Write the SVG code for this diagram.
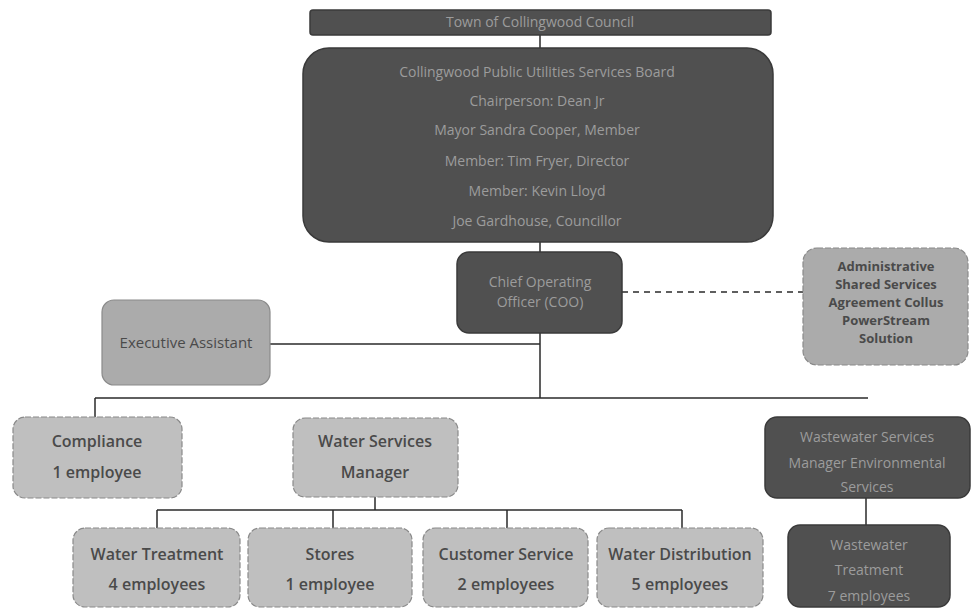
<svg xmlns="http://www.w3.org/2000/svg" width="976" height="611" viewBox="0 0 976 611">
<style>
.dark{fill:#505050;stroke:#3a3a3a;stroke-width:1.5}
.light{fill:#bfbfbf;stroke:#8a8a8a;stroke-width:1.2;stroke-dasharray:6 2}
.mid{fill:#ababab;stroke:#8a8a8a;stroke-width:1.2}
.dt{font-family:"Open Sans","Liberation Sans",sans-serif;font-size:14px;fill:#9c9c9c;text-anchor:middle}
.lt{font-family:"Open Sans","Liberation Sans",sans-serif;font-size:16px;font-weight:600;fill:#4a4a4a;text-anchor:middle}
.at{font-family:"Open Sans","Liberation Sans",sans-serif;font-size:13px;font-weight:700;fill:#4a4a4a;text-anchor:middle}
.conn line,.conn path{stroke:#2a2a2a;stroke-width:1.5;fill:none}
</style>
<rect width="976" height="611" fill="#ffffff"/>
<g class="conn" id="connectors">
<line x1="540" y1="35" x2="540" y2="48"/>
<line x1="540" y1="242" x2="540" y2="252"/>
<line x1="540" y1="333" x2="540" y2="398"/>
<line x1="270" y1="344" x2="540" y2="344"/>
<line x1="622" y1="292" x2="803" y2="292" style="stroke-dasharray:6 5"/>
<line x1="95" y1="398" x2="868" y2="398"/>
<line x1="95" y1="398" x2="95" y2="417"/>
<line x1="866" y1="498" x2="866" y2="525"/>
<line x1="375" y1="497" x2="375" y2="510"/>
<line x1="157" y1="510" x2="682" y2="510"/>
<line x1="157" y1="510" x2="157" y2="528"/>
<line x1="333" y1="510" x2="333" y2="528"/>
<line x1="507" y1="510" x2="507" y2="528"/>
<line x1="682" y1="510" x2="682" y2="528"/>
</g>
<g id="council">
<rect class="dark" x="310" y="10" width="461" height="25" rx="3"/>
<text class="dt" x="540" y="27">Town of Collingwood Council</text>
</g>
<g id="board">
<rect class="dark" x="303" y="48" width="470" height="194" rx="26"/>
<text class="dt" x="537" y="77">Collingwood Public Utilities Services Board</text>
<text class="dt" x="537" y="106">Chairperson: Dean Jr</text>
<text class="dt" x="537" y="135">Mayor Sandra Cooper, Member</text>
<text class="dt" x="537" y="166">Member: Tim Fryer, Director</text>
<text class="dt" x="537" y="196">Member: Kevin Lloyd</text>
<text class="dt" x="537" y="226">Joe Gardhouse, Councillor</text>
</g>
<g id="coo">
<rect class="dark" x="457" y="252" width="165" height="81" rx="12"/>
<text class="dt" x="540" y="287">Chief Operating</text>
<text class="dt" x="540" y="307">Officer (COO)</text>
</g>
<g id="admin">
<rect class="mid" x="803" y="248" width="165" height="117" rx="14" style="stroke-dasharray:6 2"/>
<text class="at" x="886" y="271">Administrative</text>
<text class="at" x="886" y="289">Shared Services</text>
<text class="at" x="886" y="307">Agreement Collus</text>
<text class="at" x="886" y="325">PowerStream</text>
<text class="at" x="886" y="343">Solution</text>
</g>
<g id="exec">
<rect class="mid" x="102" y="300" width="168" height="85" rx="12"/>
<text class="lt" x="186" y="348" style="font-size:15px;font-weight:400">Executive Assistant</text>
</g>
<g id="compliance">
<rect class="light" x="13" y="417" width="169" height="81" rx="12"/>
<text class="lt" x="97" y="447">Compliance</text>
<text class="lt" x="97" y="478">1 employee</text>
</g>
<g id="watermgr">
<rect class="light" x="293" y="418" width="165" height="79" rx="12"/>
<text class="lt" x="375" y="447">Water Services</text>
<text class="lt" x="375" y="478">Manager</text>
</g>
<g id="wastemgr">
<rect class="dark" x="765" y="417" width="205" height="81" rx="12"/>
<text class="dt" x="867" y="442">Wastewater Services</text>
<text class="dt" x="867" y="468">Manager Environmental</text>
<text class="dt" x="867" y="492">Services</text>
</g>
<g id="wastetreat">
<rect class="dark" x="788" y="525" width="162" height="82" rx="12"/>
<text class="dt" x="869" y="550">Wastewater</text>
<text class="dt" x="869" y="575">Treatment</text>
<text class="dt" x="869" y="601">7 employees</text>
</g>
<g id="watertreat">
<rect class="light" x="73" y="528" width="167" height="79" rx="12"/>
<text class="lt" x="157" y="560">Water Treatment</text>
<text class="lt" x="157" y="590">4 employees</text>
</g>
<g id="stores">
<rect class="light" x="248" y="528" width="164" height="79" rx="12"/>
<text class="lt" x="330" y="560">Stores</text>
<text class="lt" x="330" y="590">1 employee</text>
</g>
<g id="customer">
<rect class="light" x="423" y="528" width="165" height="79" rx="12"/>
<text class="lt" x="506" y="560">Customer Service</text>
<text class="lt" x="506" y="590">2 employees</text>
</g>
<g id="distribution">
<rect class="light" x="597" y="528" width="166" height="79" rx="12"/>
<text class="lt" x="680" y="560">Water Distribution</text>
<text class="lt" x="680" y="590">5 employees</text>
</g>
</svg>
